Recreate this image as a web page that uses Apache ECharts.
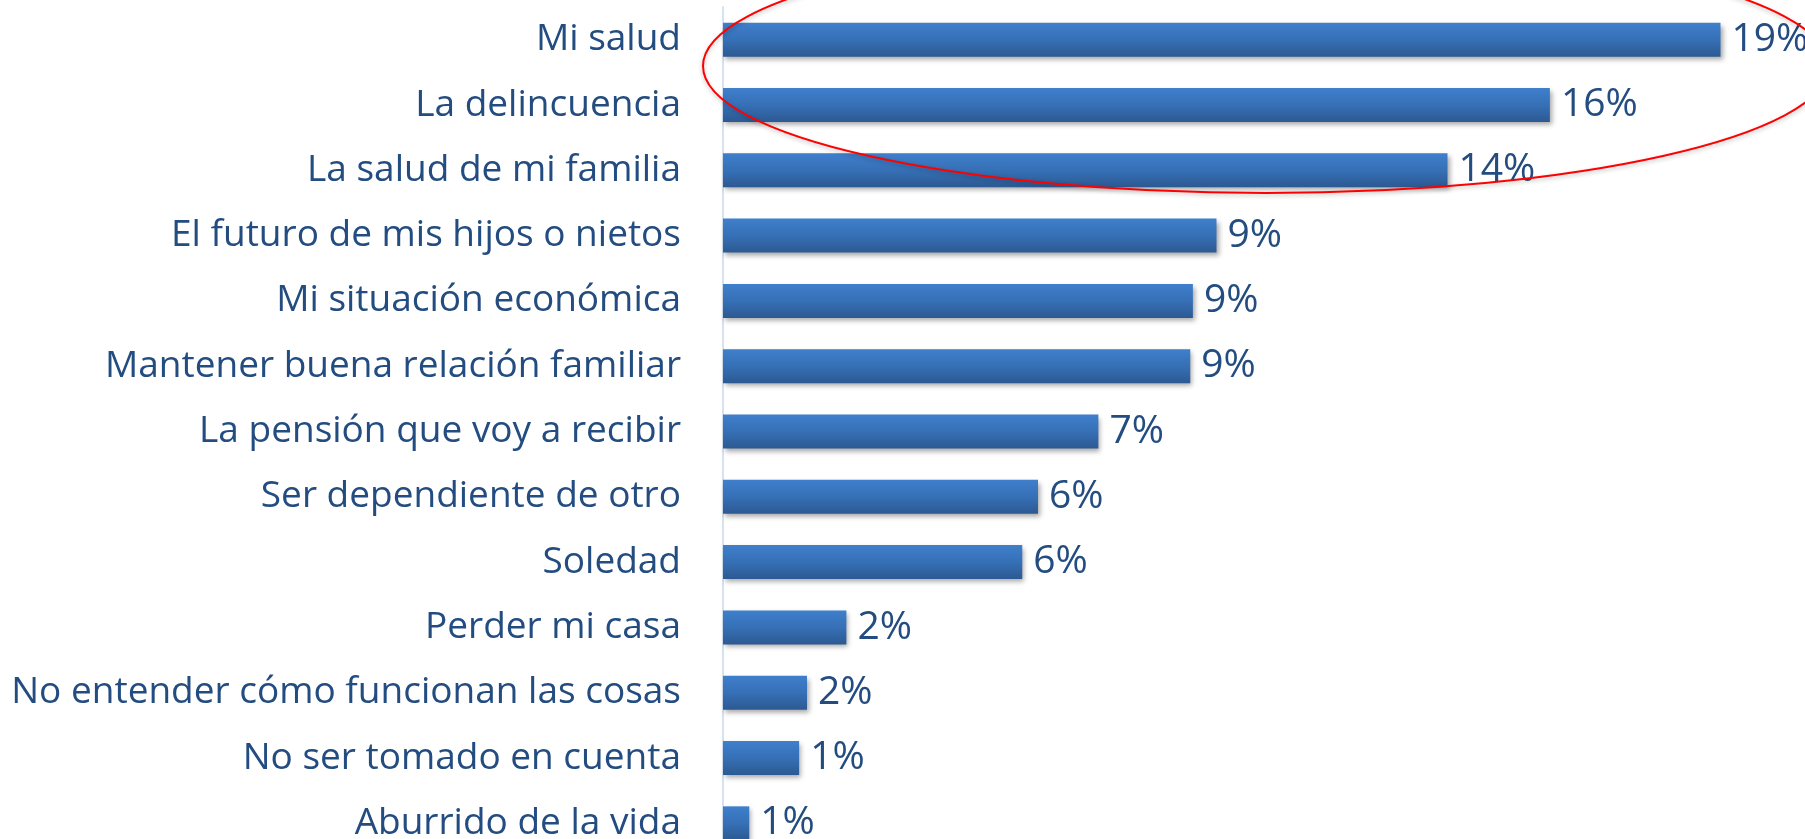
<!DOCTYPE html>
<html>
<head>
<meta charset="utf-8">
<script src="https://cdn.jsdelivr.net/npm/echarts@6/dist/echarts.min.js"></script>
<style>
  html, body { margin: 0; padding: 0; background: #fff; }
  #chart { width: 1805px; height: 839px; }
</style>
</head>
<body>
<div id="chart"></div>
<script>
// categorias, de arriba hacia abajo
var categorias = [
  "Mi salud",
  "La delincuencia",
  "La salud de mi familia",
  "El futuro de mis hijos o nietos",
  "Mi situación económica",
  "Mantener buena relación familiar",
  "La pensión que voy a recibir",
  "Ser dependiente de otro",
  "Soledad",
  "Perder mi casa",
  "No entender cómo funcionan las cosas",
  "No ser tomado en cuenta",
  "Aburrido de la vida"
];
// largo de cada barra (%)
var valores = [19.0, 15.75, 13.8, 9.4, 8.95, 8.9, 7.15, 6.0, 5.7, 2.35, 1.6, 1.45, 0.5];
// texto de las etiquetas tal como aparece
var etiquetas = ["19%", "16%", "14%", "9%", "9%", "9%", "7%", "6%", "6%", "2%", "2%", "1%", "1%"];

var azulTexto = "#234c80";
var fuente = "'Open Sans', 'Noto Sans', sans-serif";

var chart = echarts.init(document.getElementById("chart"));

var option = {
  animation: false,
  grid: {
    left: 723,
    right: 32,
    top: 7,
    height: 849,
    outerBoundsMode: "none",
    containLabel: false
  },
  xAxis: {
    type: "value",
    min: 0,
    max: 20,
    show: false
  },
  yAxis: {
    type: "category",
    inverse: true,
    data: categorias,
    axisLine: {
      show: true,
      lineStyle: { color: "#d6e2f1", width: 2 }
    },
    axisTick: { show: false },
    splitLine: { show: false },
    axisLabel: {
      margin: 42,
      color: azulTexto,
      fontFamily: fuente,
      fontSize: 37
    }
  },
  series: [
    {
      type: "bar",
      data: valores,
      barWidth: 34,
      itemStyle: {
        color: new echarts.graphic.LinearGradient(0, 0, 0, 1, [
          { offset: 0, color: "#3f7fcc" },
          { offset: 0.5, color: "#3670b6" },
          { offset: 1, color: "#2c5992" }
        ]),
        shadowColor: "rgba(0,0,0,0.35)",
        shadowBlur: 5,
        shadowOffsetX: 2,
        shadowOffsetY: 3
      },
      label: {
        show: true,
        position: "right",
        distance: 11,
        color: azulTexto,
        fontFamily: fuente,
        fontSize: 39,
        formatter: function (p) {
          return etiquetas[p.dataIndex];
        }
      }
    }
  ],
  graphic: [
    {
      type: "ellipse",
      shape: { cx: 1266, cy: 66, rx: 563, ry: 127 },
      style: {
        fill: "none",
        stroke: "#ff0000",
        lineWidth: 2,
        shadowColor: "rgba(0,0,0,0.25)",
        shadowBlur: 4,
        shadowOffsetY: 2
      },
      z: 100
    }
  ]
};

chart.setOption(option);
</script>
</body>
</html>
